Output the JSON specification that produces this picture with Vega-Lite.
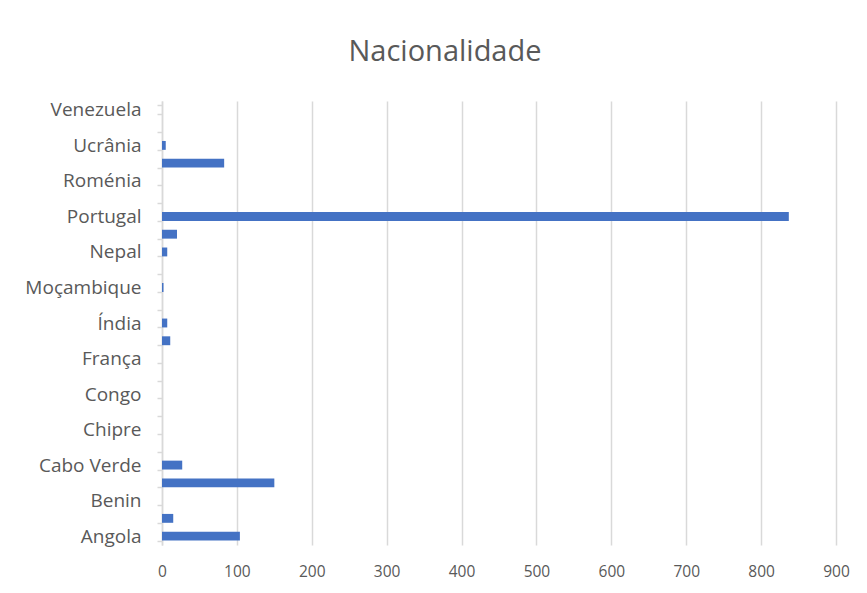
{
  "$schema": "https://vega.github.io/schema/vega-lite/v6.json",
  "autosize": {"type": "none"},
  "width": 674,
  "height": 444,
  "padding": {"left": 162, "top": 101, "right": 31, "bottom": 48},
  "background": "white",
  "title": {
    "text": "Nacionalidade",
    "fontSize": 29,
    "font": "Open Sans",
    "fontWeight": "normal",
    "color": "#595959",
    "anchor": "middle",
    "dx": -54,
    "offset": 25
  },
  "data": {
    "values": [
      {"pais": "Angola", "ordem": 1, "n": 104},
      {"pais": "Bangladesh", "ordem": 2, "n": 15},
      {"pais": "Benin", "ordem": 3, "n": 0},
      {"pais": "Brasil", "ordem": 4, "n": 150},
      {"pais": "Cabo Verde", "ordem": 5, "n": 27},
      {"pais": "China", "ordem": 6, "n": 0},
      {"pais": "Chipre", "ordem": 7, "n": 0},
      {"pais": "Colômbia", "ordem": 8, "n": 0},
      {"pais": "Congo", "ordem": 9, "n": 0},
      {"pais": "Espanha", "ordem": 10, "n": 0},
      {"pais": "França", "ordem": 11, "n": 0},
      {"pais": "Guiné-Bissau", "ordem": 12, "n": 11},
      {"pais": "Índia", "ordem": 13, "n": 7},
      {"pais": "Itália", "ordem": 14, "n": 0},
      {"pais": "Moçambique", "ordem": 15, "n": 2},
      {"pais": "Moldávia", "ordem": 16, "n": 0},
      {"pais": "Nepal", "ordem": 17, "n": 7},
      {"pais": "Paquistão", "ordem": 18, "n": 20},
      {"pais": "Portugal", "ordem": 19, "n": 837},
      {"pais": "Reino Unido", "ordem": 20, "n": 0},
      {"pais": "Roménia", "ordem": 21, "n": 0},
      {"pais": "São Tomé e Príncipe", "ordem": 22, "n": 83},
      {"pais": "Ucrânia", "ordem": 23, "n": 5},
      {"pais": "Uzbequistão", "ordem": 24, "n": 0},
      {"pais": "Venezuela", "ordem": 25, "n": 0}
    ]
  },
  "mark": {"type": "bar", "color": "#4472C4"},
  "encoding": {
    "y": {
      "field": "pais",
      "type": "nominal",
      "sort": {"field": "ordem", "op": "min", "order": "descending"},
      "scale": {"paddingInner": 0.5, "paddingOuter": 0.25},
      "axis": {
        "title": null,
        "domainColor": "#d9d9d9",
        "domainWidth": 1.5,
        "tickColor": "#d9d9d9",
        "tickWidth": 1.5,
        "tickSize": 5,
        "tickBand": "extent",
        "labelPadding": 16,
        "labelFont": "Open Sans",
        "labelFontSize": 19,
        "labelColor": "#595959",
        "labelOverlap": false,
        "labelExpr": "indexof(['Angola','Benin','Cabo Verde','Chipre','Congo','França','Índia','Moçambique','Nepal','Portugal','Roménia','Ucrânia','Venezuela'], datum.label) >= 0 ? datum.label : ''"
      }
    },
    "x": {
      "field": "n",
      "type": "quantitative",
      "scale": {"domain": [0, 900], "nice": false},
      "axis": {
        "title": null,
        "values": [0, 100, 200, 300, 400, 500, 600, 700, 800, 900],
        "domain": false,
        "ticks": false,
        "tickSize": 0,
        "grid": true,
        "gridColor": "#d9d9d9",
        "gridWidth": 1.5,
        "labelPadding": 19,
        "labelFont": "Open Sans",
        "labelFontSize": 15.5,
        "labelColor": "#595959",
        "labelFlush": false
      }
    }
  },
  "config": {"view": {"stroke": null}}
}
